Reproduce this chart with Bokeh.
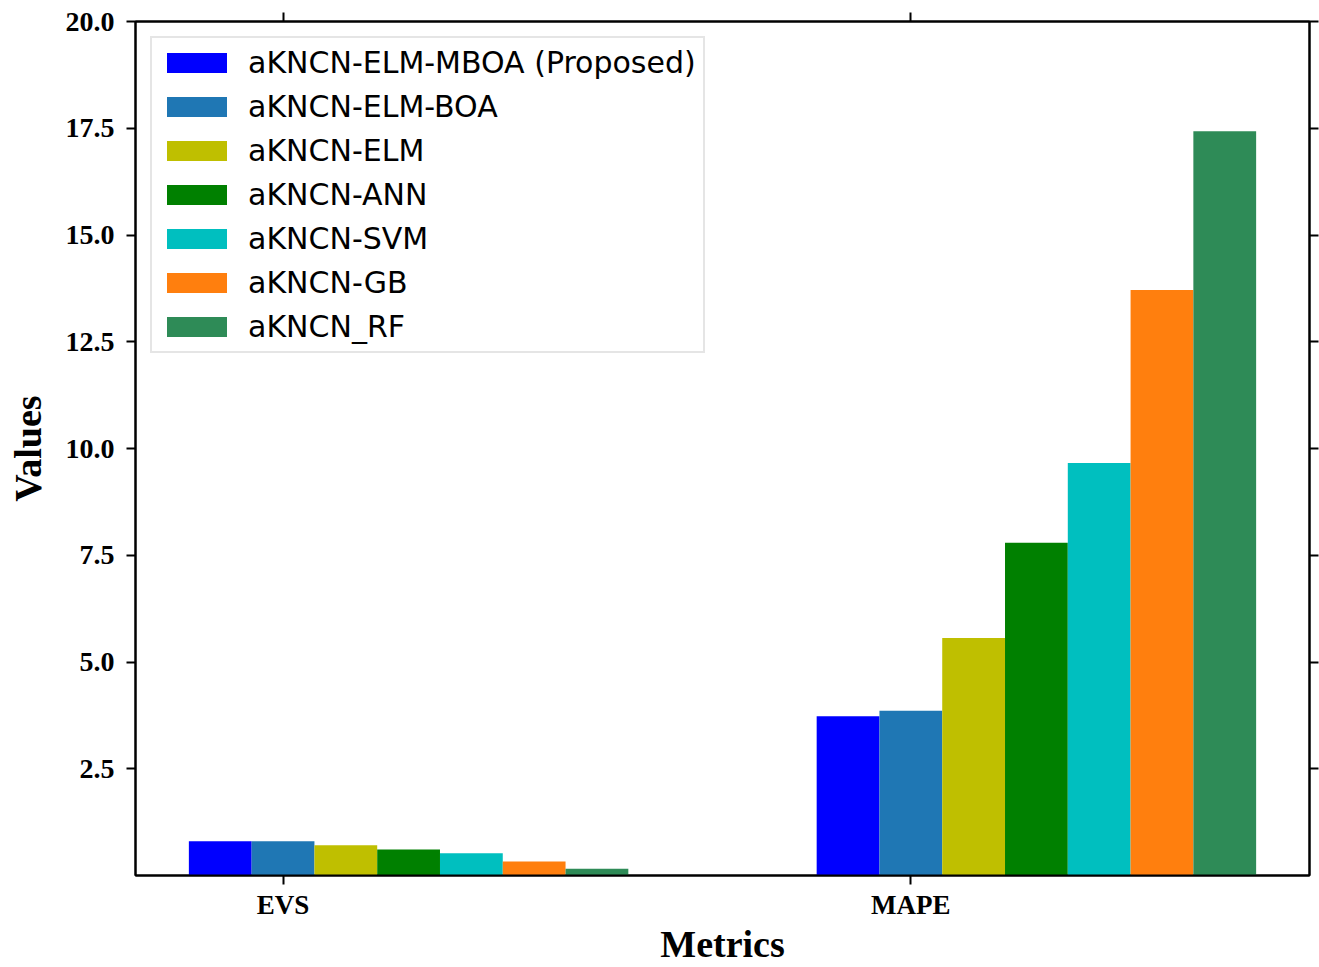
from bokeh.plotting import figure
from bokeh.models import (Range1d, FixedTicker, LinearAxis, Legend, LegendItem,
                          ColumnDataSource, NumeralTickFormatter)
from bokeh.embed import file_html
from bokeh.resources import INLINE

metrics = ["EVS", "MAPE"]
models = ["aKNCN-ELM-MBOA (Proposed)", "aKNCN-ELM-BOA", "aKNCN-ELM",
          "aKNCN-ANN", "aKNCN-SVM", "aKNCN-GB", "aKNCN_RF"]
colors = ["#0000ff", "#1f77b4", "#bfbf00", "#008000", "#00bfbf", "#ff7f0e", "#2e8b57"]
evs = [0.80, 0.80, 0.71, 0.61, 0.52, 0.33, 0.16]
mape = [3.73, 3.86, 5.56, 7.79, 9.66, 13.71, 17.43]
y_ticks = [2.5, 5.0, 7.5, 10.0, 12.5, 15.0, 17.5, 20.0]

bar_w = 0.1
p = figure(width=1319, height=967, output_backend="svg", toolbar_location=None,
           x_range=Range1d(-0.135, 1.735), y_range=Range1d(0, 20),
           min_border_left=135, min_border_right=10, min_border_top=21,
           min_border_bottom=91, x_axis_location=None, y_axis_location=None)
p.grid.visible = False
p.outline_line_color = "black"
p.outline_line_width = 2
p.background_fill_color = "white"
p.border_fill_color = "white"

items = []
for j, (m, c) in enumerate(zip(models, colors)):
    xs = [i + j * bar_w for i in range(len(metrics))]
    src = ColumnDataSource(dict(x=xs, top=[evs[j], mape[j]]))
    r = p.vbar(x="x", top="top", width=bar_w, bottom=0, source=src,
               fill_color=c, line_color=None)
    items.append(LegendItem(label=m, renderers=[r]))

cat_ticks = [i + bar_w for i in range(len(metrics))]

def style_axis(ax):
    ax.axis_line_width = 2
    ax.axis_line_color = "black"
    ax.major_tick_line_width = 2
    ax.major_tick_line_color = "black"
    ax.major_tick_in = 0
    ax.major_tick_out = 9
    ax.minor_tick_line_color = None
    ax.major_label_text_color = "black"
    ax.axis_label_text_color = "black"

xb = LinearAxis(ticker=FixedTicker(ticks=cat_ticks),
                major_label_overrides={cat_ticks[k]: metrics[k] for k in range(len(metrics))},
                axis_label="Metrics")
style_axis(xb)
xb.major_label_text_font = "Liberation Serif"
xb.major_label_text_font_style = "bold"
xb.major_label_text_font_size = "27px"
xb.major_label_standoff = 5
xb.axis_label_text_font = "Liberation Serif"
xb.axis_label_text_font_style = "bold"
xb.axis_label_text_font_size = "38px"
xb.axis_label_standoff = 0
p.add_layout(xb, "below")

xt = LinearAxis(ticker=FixedTicker(ticks=cat_ticks),
                major_label_overrides={t: "" for t in cat_ticks})
style_axis(xt)
xt.major_label_standoff = 0
p.add_layout(xt, "above")

yl = LinearAxis(ticker=FixedTicker(ticks=y_ticks), formatter=NumeralTickFormatter(format="0.0"),
                axis_label="Values")
style_axis(yl)
yl.major_label_text_font = "Liberation Serif"
yl.major_label_text_font_style = "bold"
yl.major_label_text_font_size = "28px"
yl.major_label_standoff = 12
yl.axis_label_text_font = "Liberation Serif"
yl.axis_label_text_font_style = "bold"
yl.axis_label_text_font_size = "38px"
yl.axis_label_standoff = 14
p.add_layout(yl, "left")

yr = LinearAxis(ticker=FixedTicker(ticks=y_ticks),
                major_label_overrides={t: "" for t in y_ticks})
style_axis(yr)
yr.major_label_standoff = 0
p.add_layout(yr, "right")

legend = Legend(items=items, location="top_left")
legend.margin = 15
legend.padding = 7
legend.spacing = 9
legend.glyph_width = 75
legend.glyph_height = 25
legend.label_standoff = 14
legend.label_text_font = "DejaVu Sans"
legend.label_text_font_size = "30px"
legend.label_text_color = "black"
legend.label_height = 26
legend.border_line_color = "#cccccc"
legend.border_line_width = 2
legend.background_fill_alpha = 0.85
p.add_layout(legend, "center")

open("out.html", "w").write(file_html(p, INLINE))
